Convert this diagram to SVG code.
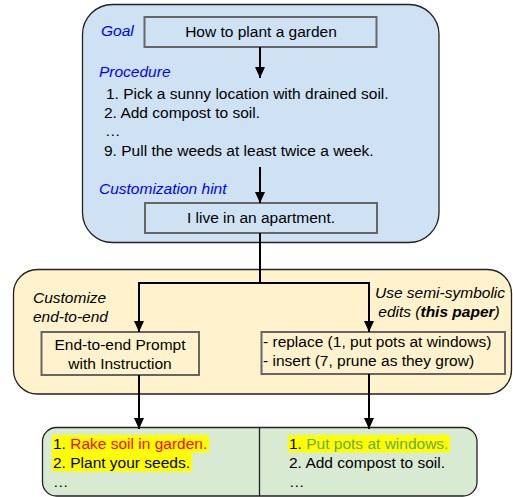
<svg xmlns="http://www.w3.org/2000/svg" width="513" height="497" viewBox="0 0 513 497">
<style>
text{font-family:"Liberation Sans",Arial,sans-serif;font-size:15.5px;fill:#000}
.lbl{fill:#0000ff;font-style:italic}
.it{font-style:italic}
.mid{text-anchor:middle}
.outer{stroke:#222;stroke-width:1.3}
.inner{stroke:#666;stroke-width:2}
.conn{fill:none;stroke:#000;stroke-width:2}
.hl{fill:#ffff00}
</style>
<defs>
<marker id="arr" markerUnits="userSpaceOnUse" markerWidth="11" markerHeight="10" refX="11" refY="5" orient="auto">
<path d="M0,0 L11,5 L0,10 z" fill="#000"/>
</marker>
</defs>
<g id="panel-top">
<rect x="82.5" y="4.5" width="356.5" height="238" rx="30" ry="30" fill="#cfe2f3" class="outer"/>
<text x="101" y="36" class="lbl">Goal</text>
<text x="99" y="77" class="lbl">Procedure</text>
<text x="106" y="99">1. Pick a sunny location with drained soil.</text>
<text x="104" y="118">2. Add compost to soil.</text>
<text x="105" y="136">…</text>
<text x="104" y="156">9. Pull the weeds at least twice a week.</text>
<text x="99" y="194" class="lbl">Customization hint</text>
</g>
<g id="goal">
<rect x="144.5" y="17" width="232" height="30" fill="#cfe2f3" class="inner"/>
<text x="261" y="37" class="mid">How to plant a garden</text>
</g>
<g id="hint">
<rect x="145" y="203" width="232" height="30" fill="#cfe2f3" class="inner"/>
<text x="261" y="223" class="mid">I live in an apartment.</text>
</g>
<g id="panel-mid">
<rect x="13.5" y="269.5" width="498" height="124.5" rx="24" ry="24" fill="#fff2cc" class="outer"/>
<text x="33" y="303" class="it">Customize</text>
<text x="33" y="322" class="it">end-to-end</text>
<text x="440" y="298" class="it mid">Use semi-symbolic</text>
<text x="439" y="317" class="it mid">edits (<tspan font-weight="bold">this paper</tspan>)</text>
</g>
<g id="e2e">
<rect x="41.5" y="332" width="157.5" height="43" fill="#fff2cc" class="inner"/>
<text x="120" y="350" class="mid">End-to-end Prompt</text>
<text x="120" y="369" class="mid">with Instruction</text>
</g>
<g id="edits">
<rect x="261.5" y="332" width="243.5" height="42" fill="#fff2cc" class="inner"/>
<text x="263" y="347">- replace (1, put pots at windows)</text>
<text x="263" y="366">- insert (7, prune as they grow)</text>
</g>
<g id="output">
<rect x="42.5" y="427.5" width="434.5" height="68.5" rx="14" ry="14" fill="#d9ead3" class="outer"/>
<line x1="259.5" y1="427.5" x2="259.5" y2="496" stroke="#222" stroke-width="1.3"/>
<rect x="52" y="435" width="157" height="17.5" class="hl"/>
<rect x="52" y="452.5" width="140" height="19" class="hl"/>
<rect x="288" y="435" width="162" height="17.5" class="hl"/>
<text x="53" y="449">1. <tspan fill="#ff0000">Rake soil in garden.</tspan></text>
<text x="53" y="468">2. Plant your seeds.</text>
<text x="53" y="487">…</text>
<text x="289" y="449">1. <tspan fill="#6aa84f">Put pots at windows.</tspan></text>
<text x="289" y="468">2. Add compost to soil.</text>
<text x="289" y="487">…</text>
</g>
<g id="connectors">
<path class="conn" d="M260,47 V78" marker-end="url(#arr)"/>
<path class="conn" d="M260,167 V203" marker-end="url(#arr)"/>
<path class="conn" d="M260,233 V283"/>
<path class="conn" d="M260,283 H139 V332" marker-end="url(#arr)"/>
<path class="conn" d="M260,283 H369 V332" marker-end="url(#arr)"/>
<path class="conn" d="M139,375 V429" marker-end="url(#arr)"/>
<path class="conn" d="M369,374 V429" marker-end="url(#arr)"/>
</g>
</svg>
